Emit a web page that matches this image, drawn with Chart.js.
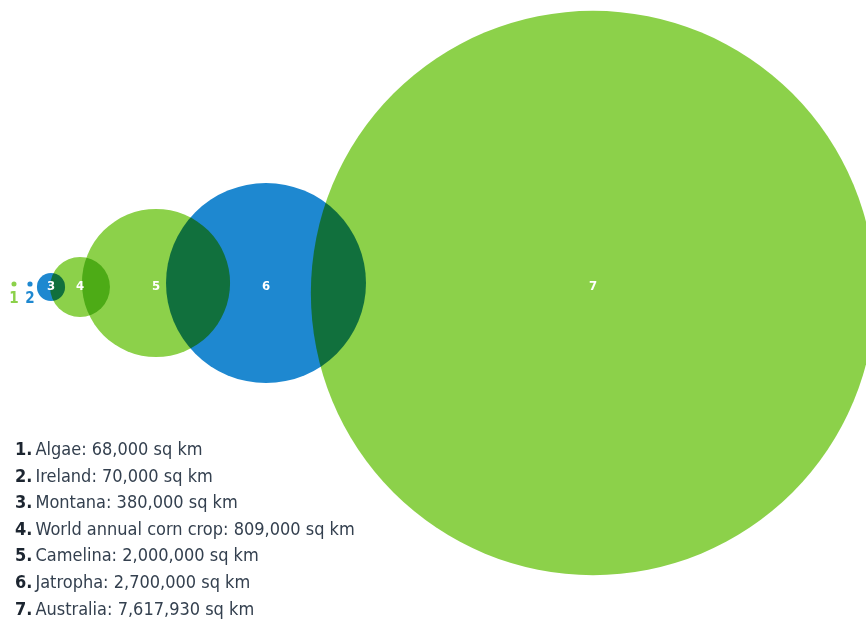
<!DOCTYPE html>
<html>
<head>
<meta charset="utf-8">
<script src="https://cdn.jsdelivr.net/npm/chart.js@4/dist/chart.umd.min.js"></script>
<style>
  html, body { margin: 0; padding: 0; background: #ffffff; }
  #wrap { position: relative; width: 866px; height: 621px; overflow: hidden; }
  #chart { position: absolute; left: 0; top: 0; }
  #legend { position: absolute; left: 15px; top: 436px; margin: 0; padding: 0; list-style: none;
    font-family: "Liberation Sans Narrow", "DejaVu Sans Condensed", "Roboto Condensed", sans-serif;
    font-size: 18px; color: #34404f; }
  #legend li { height: 26.6px; line-height: 26.6px; white-space: nowrap; }
  #legend b { color: #1c2530; font-weight: 700; margin-right: 3px; }
</style>
</head>
<body>
<div id="wrap">
  <canvas id="chart" width="866" height="621"></canvas>
  <ul id="legend"></ul>
</div>
<script>
// ---- data ----
const categories = ['Algae', 'Ireland', 'Montana', 'World annual corn crop', 'Camelina', 'Jatropha', 'Australia'];
const areasSqKm = [68000, 70000, 380000, 809000, 2000000, 2700000, 7617930];
const areaLabels = ['68,000', '70,000', '380,000', '809,000', '2,000,000', '2,700,000', '7,617,930'];
const colorGroup = ['green', 'blue', 'blue', 'green', 'green', 'blue', 'green'];
const centerX = [14, 30, 51, 80, 156, 266, 593];
const centerY = [284, 284, 287, 287, 283, 283, 293];

// ---- styles ----
const COLORS = { green: '#8cd14a', blue: '#1e88d0' };
const SQKM_PER_PX_RADIUS = 27000;
const LABEL_ROW = 287;

// legend (HTML text)
const legendEl = document.getElementById('legend');
categories.forEach((c, i) => {
  const li = document.createElement('li');
  li.innerHTML = '<b>' + (i + 1) + '.</b>' + c + ': ' + areaLabels[i] + ' sq km';
  legendEl.appendChild(li);
});

const points = categories.map((c, i) => ({ x: centerX[i], y: centerY[i], r: areasSqKm[i] / SQKM_PER_PX_RADIUS }));

const multiplyPlugin = {
  id: 'multiply',
  beforeDatasetsDraw(chart) { chart.ctx.save(); chart.ctx.globalCompositeOperation = 'multiply'; },
  afterDatasetsDraw(chart) { chart.ctx.restore(); }
};

const labelPlugin = {
  id: 'bubbleLabels',
  afterDraw(chart) {
    const ctx = chart.ctx;
    const meta = chart.getDatasetMeta(0);
    const ys = chart.scales.y;
    ctx.save();
    ctx.textAlign = 'center';
    ctx.textBaseline = 'middle';
    meta.data.forEach((el, i) => {
      const r = points[i].r;
      if (r > 8) {
        ctx.fillStyle = '#ffffff';
        ctx.font = 'bold 13px "Liberation Sans Narrow", "DejaVu Sans Condensed", sans-serif';
        ctx.fillText(String(i + 1), el.x, ys.getPixelForValue(LABEL_ROW));
      } else {
        ctx.fillStyle = COLORS[colorGroup[i]];
        ctx.font = 'bold 15px "Liberation Sans Narrow", "DejaVu Sans Condensed", sans-serif';
        ctx.fillText(String(i + 1), el.x, ys.getPixelForValue(LABEL_ROW + 12));
      }
    });
    ctx.restore();
  }
};

new Chart(document.getElementById('chart'), {
  type: 'bubble',
  data: {
    datasets: [{
      label: 'Area',
      data: points,
      backgroundColor: colorGroup.map(g => COLORS[g]),
      borderWidth: 0,
      clip: false
    }]
  },
  options: {
    responsive: false,
    animation: false,
    events: [],
    layout: { padding: 0, autoPadding: false },
    plugins: { legend: { display: false }, tooltip: { enabled: false } },
    scales: {
      x: { type: 'linear', min: 0, max: 866, display: false },
      y: { type: 'linear', min: 0, max: 621, reverse: true, display: false }
    }
  },
  plugins: [multiplyPlugin, labelPlugin]
});
</script>
</body>
</html>
